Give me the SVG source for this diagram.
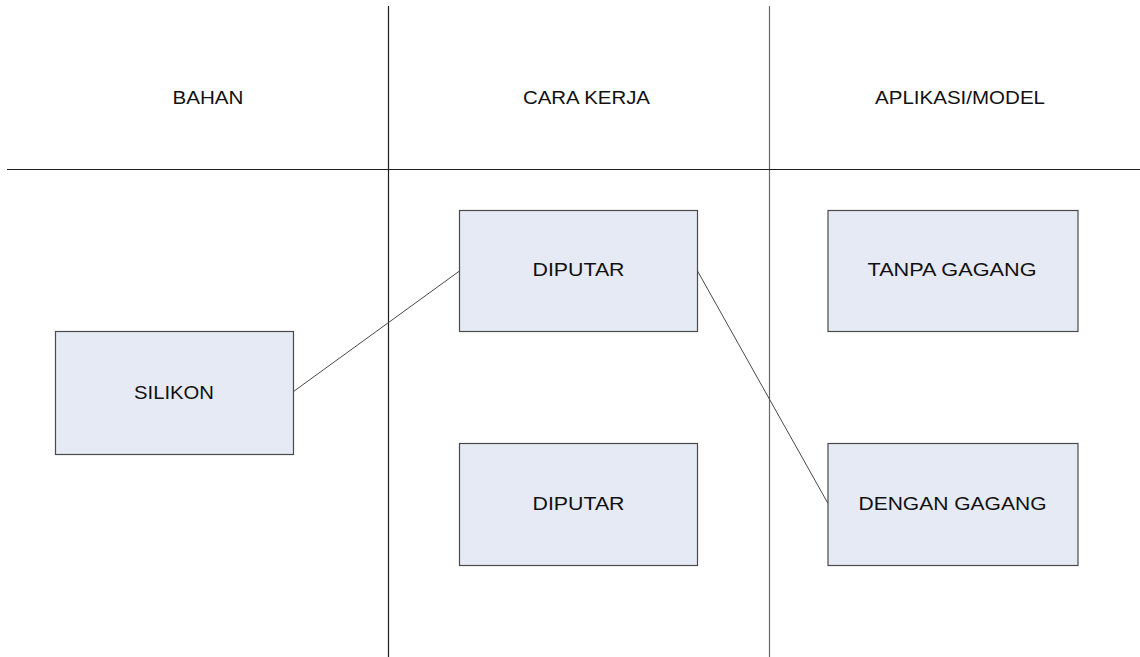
<svg xmlns="http://www.w3.org/2000/svg" width="1140" height="657" viewBox="0 0 1140 657">
<style>
.bg{fill:#ffffff}
.grid{stroke:#1e1e1e;stroke-width:1.2;fill:none}
.grid2{stroke:#6a6a6a;stroke-width:1.2;fill:none}
.box{fill:#e6eaf5;stroke:#4a4a4a;stroke-width:1.2}
.conn{stroke:#4a4a4a;stroke-width:1;fill:none}
text{font-family:"Liberation Sans",Arial,sans-serif;font-size:17.5px;fill:#111111;text-anchor:middle}
</style>
<rect class="bg" x="0" y="0" width="1140" height="657"/>
<g id="lanes">
<line class="grid" x1="388.5" y1="6" x2="388.5" y2="657"/>
<line class="grid2" x1="769.5" y1="6" x2="769.5" y2="657"/>
<line class="grid" x1="7" y1="169.5" x2="1140" y2="169.5"/>
<text x="208" y="103.5" textLength="71" lengthAdjust="spacingAndGlyphs">BAHAN</text>
<text x="586.5" y="104" textLength="127" lengthAdjust="spacingAndGlyphs">CARA KERJA</text>
<text x="960" y="104" textLength="170" lengthAdjust="spacingAndGlyphs">APLIKASI/MODEL</text>
</g>
<g id="connectors">
<line class="conn" x1="293.5" y1="391.5" x2="459.5" y2="271"/>
<line class="conn" x1="697.5" y1="271" x2="828" y2="503.5"/>
</g>
<g id="silikon">
<rect class="box" x="55.5" y="331.5" width="238" height="123"/>
<text x="174" y="398.5" textLength="80" lengthAdjust="spacingAndGlyphs">SILIKON</text>
</g>
<g id="diputar1">
<rect class="box" x="459.5" y="210.5" width="238" height="121"/>
<text x="578.5" y="276" textLength="92" lengthAdjust="spacingAndGlyphs">DIPUTAR</text>
</g>
<g id="diputar2">
<rect class="box" x="459.5" y="443.5" width="238" height="122"/>
<text x="578.5" y="509.5" textLength="92" lengthAdjust="spacingAndGlyphs">DIPUTAR</text>
</g>
<g id="tanpa-gagang">
<rect class="box" x="828" y="210.5" width="250" height="121"/>
<text x="952" y="276" textLength="169" lengthAdjust="spacingAndGlyphs">TANPA GAGANG</text>
</g>
<g id="dengan-gagang">
<rect class="box" x="828" y="443.5" width="250" height="122"/>
<text x="952.5" y="509.5" textLength="188" lengthAdjust="spacingAndGlyphs">DENGAN GAGANG</text>
</g>
</svg>
